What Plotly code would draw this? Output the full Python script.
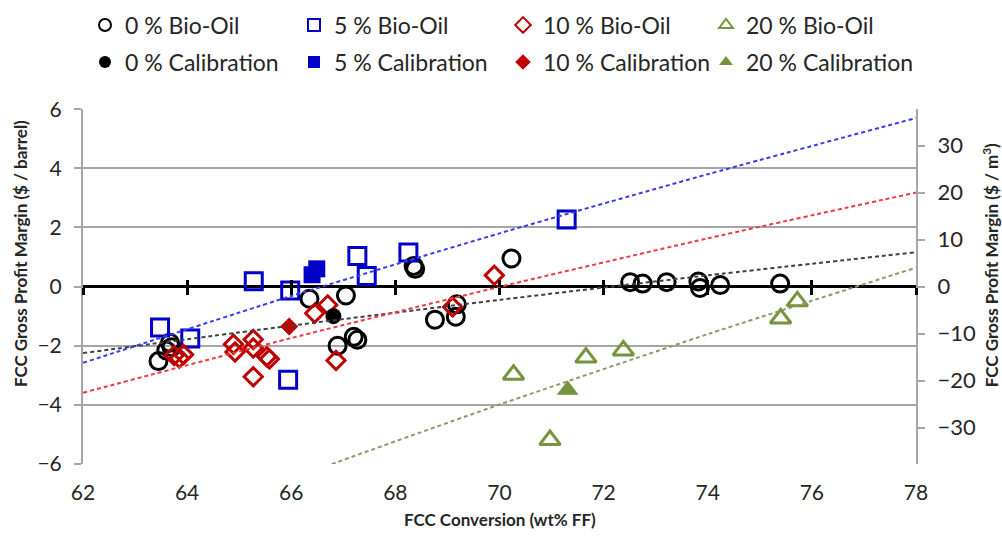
import plotly.graph_objects as go

# ---- data: FCC conversion (wt% FF) vs gross profit margin ($/barrel) ----
bio0_x = [63.45, 63.60, 63.67, 63.70, 66.35, 67.05, 66.89, 67.20, 67.27, 68.35, 68.38,
          68.76, 69.18, 69.16, 70.23, 72.51, 72.75, 73.21, 73.82, 73.85, 74.24, 75.39]
bio0_y = [-2.52, -2.16, -1.90, -2.05, -0.41, -0.30, -2.00, -1.70, -1.80, 0.70, 0.60,
          -1.12, -0.60, -1.02, 0.95, 0.15, 0.10, 0.15, 0.17, -0.05, 0.05, 0.10]
cal0_x = [66.81]
cal0_y = [-1.00]

bio5_x = [63.48, 64.06, 65.28, 65.98, 65.94, 67.27, 67.45, 68.25, 71.29]
bio5_y = [-1.38, -1.76, 0.18, -0.13, -3.15, 1.03, 0.36, 1.15, 2.27]
cal5_x = [66.49, 66.40]
cal5_y = [0.60, 0.40]

bio10_x = [63.75, 63.93, 63.85, 64.89, 64.92, 65.27, 65.27, 65.53, 65.58, 65.27,
           66.45, 66.70, 66.86, 69.10, 69.90]
bio10_y = [-2.33, -2.30, -2.42, -1.95, -2.21, -1.79, -2.08, -2.37, -2.45, -3.05,
           -0.90, -0.62, -2.50, -0.69, 0.38]
cal10_x = [65.96]
cal10_y = [-1.35]

bio20_x = [70.27, 70.97, 71.66, 72.38, 75.40, 75.72]
bio20_y = [-2.98, -5.19, -2.40, -2.16, -1.08, -0.50]
cal20_x = [71.31]
cal20_y = [-3.50]

# trend lines (read at these conversions)
trend_x = [62, 66, 70, 74, 78]
trend0 = [-2.25, -1.32, -0.45, 0.38, 1.16]
trend5 = [-2.58, -0.32, 1.80, 3.80, 5.70]
trend10 = [-3.59, -1.74, -0.01, 1.63, 3.18]
trend20 = [-9.18, -6.50, -3.99, -1.61, 0.64]

labels_bio = ["0 % Bio-Oil", "5 % Bio-Oil", "10 % Bio-Oil", "20 % Bio-Oil"]
labels_cal = ["0 % Calibration", "5 % Calibration", "10 % Calibration", "20 % Calibration"]

x_ticks = [62, 64, 66, 68, 70, 72, 74, 76, 78]
y_ticks = [-6, -4, -2, 0, 2, 4, 6]
y2_ticks = [-30, -20, -10, 0, 10, 20, 30]

BBL_PER_M3 = 1 / 0.158987  # 1 m3 = 6.29 barrels

BLACK = "#000000"
BLUE = "#0000C8"
RED = "#C00000"
GREEN = "#77933C"
FONT = "Lato, 'Open Sans', sans-serif"
TEXT = "#262626"

# page / plot-area geometry in pixels
W, H = 1002, 541
ML, MR, MT, MB = 83, 86, 82, 77
PW, PH = W - ML - MR, H - MT - MB

# legend grid: symbol centres of the four columns and the two rows
LEG_COL_X = [103, 312, 521, 724]
LEG_ROW_Y = [25, 62]


def px_x(px):
    return (px - ML) / PW


def px_y(py):
    return (H - MB - py) / PH


fig = go.Figure()

series = [
    (bio0_x, bio0_y, cal0_x, cal0_y, BLACK, "circle", 17, 16),
    (bio5_x, bio5_y, cal5_x, cal5_y, BLUE, "square", 17, 17),
    (bio10_x, bio10_y, cal10_x, cal10_y, RED, "diamond", 14, 14),
    (bio20_x, bio20_y, cal20_x, cal20_y, GREEN, "triangle-up", 18, 19),
]

legend_layout = {}


def legend_box(col, row):
    return dict(
        orientation="h", xref="container", yref="container",
        xanchor="left", yanchor="middle",
        x=(LEG_COL_X[col] - 18) / W, y=1 - LEG_ROW_Y[row] / H,
        font=dict(family=FONT, size=23, color=TEXT),
        bgcolor="rgba(0,0,0,0)", itemsizing="constant", itemwidth=30,
    )


for i, (bx, by, cx, cy, col, sym, s_open, s_fill) in enumerate(series):
    name = "legend" if i == 0 else f"legend{i + 1}"
    legend_layout[name] = legend_box(i, 0)
    fig.add_trace(go.Scatter(
        x=bx, y=by, mode="markers", name=labels_bio[i], legend=name,
        marker=dict(symbol=sym + "-open", size=s_open, color=col,
                    line=dict(width=3, color=col)),
        hoverinfo="x+y",
    ))
for i, (bx, by, cx, cy, col, sym, s_open, s_fill) in enumerate(series):
    name = f"legend{i + 5}"
    legend_layout[name] = legend_box(i, 1)
    fig.add_trace(go.Scatter(
        x=cx, y=cy, mode="markers", name=labels_cal[i], legend=name,
        marker=dict(symbol=sym, size=s_fill, color=col, line=dict(width=0)),
        hoverinfo="x+y",
    ))

trend_cols = ["#404040", "#3A3AF0", "#F03A3A", "#8C9A66"]
for ty, tc in zip([trend0, trend5, trend10, trend20], trend_cols):
    fig.add_trace(go.Scatter(
        x=trend_x, y=ty, mode="lines", showlegend=False, hoverinfo="skip",
        line=dict(color=tc, width=2, dash="4px,3px", shape="spline", smoothing=0.6),
    ))

# helper traces so the secondary axes get drawn
fig.add_trace(go.Scatter(x=[], y=[], xaxis="x2", yaxis="y", showlegend=False))
fig.add_trace(go.Scatter(x=[], y=[], xaxis="x3", yaxis="y", showlegend=False))
fig.add_trace(go.Scatter(x=[], y=[], xaxis="x", yaxis="y2", showlegend=False))

fig.update_layout(
    width=W, height=H,
    margin=dict(l=ML, r=MR, t=MT, b=MB),
    paper_bgcolor="white", plot_bgcolor="white",
    font=dict(family=FONT, size=21, color=TEXT),
    showlegend=True,
    xaxis=dict(
        range=[62, 78], tickvals=x_ticks, showgrid=False, zeroline=False,
        showline=False, ticks="", ticklabelstandoff=14,
        tickfont=dict(family=FONT, size=21, color=TEXT),
    ),
    # cross-shaped tick marks along the zero line
    xaxis2=dict(
        range=[62, 78], tickvals=x_ticks, overlaying="x", anchor="free", position=0.5,
        showgrid=False, zeroline=False, showline=False, showticklabels=False,
        ticks="outside", ticklen=7, tickwidth=3, tickcolor=BLACK,
    ),
    xaxis3=dict(
        range=[62, 78], tickvals=x_ticks, overlaying="x", anchor="free", position=0.5,
        showgrid=False, zeroline=False, showline=False, showticklabels=False,
        ticks="inside", ticklen=7, tickwidth=3, tickcolor=BLACK,
    ),
    yaxis=dict(
        range=[-6, 6], tickvals=y_ticks, showgrid=True, gridcolor="#A6A6A6", gridwidth=2,
        zeroline=True, zerolinecolor=BLACK, zerolinewidth=3,
        showline=True, linecolor="#A6A6A6", linewidth=2,
        ticks="outside", ticklen=7, tickwidth=2, tickcolor="#A6A6A6",
        ticklabelstandoff=8,
        tickfont=dict(family=FONT, size=21, color=TEXT),
    ),
    yaxis2=dict(
        range=[-6 * BBL_PER_M3, 6 * BBL_PER_M3], tickvals=y2_ticks,
        overlaying="y", side="right", anchor="x", showgrid=False, zeroline=False,
        showline=True, linecolor="#A6A6A6", linewidth=2,
        ticks="outside", ticklen=7, tickwidth=2, tickcolor="#A6A6A6",
        ticklabelstandoff=8,
        tickfont=dict(family=FONT, size=22, color=TEXT),
    ),
    **legend_layout,
)

# axis titles
fig.add_annotation(
    text="<b>FCC Conversion (wt% FF)</b>", xref="paper", yref="paper",
    x=0.5, y=px_y(524), showarrow=False, xanchor="center", yanchor="middle",
    font=dict(family=FONT, size=17, color=TEXT),
)
fig.add_annotation(
    text="<b>FCC Gross Profit Margin ($ / barrel)</b>", xref="paper", yref="paper",
    x=px_x(20), y=px_y(238), showarrow=False, textangle=-90,
    xanchor="center", yanchor="middle",
    font=dict(family=FONT, size=17, color=TEXT),
)
fig.add_annotation(
    text="<b>FCC Gross Profit Margin ($ / m<sup>3</sup>)</b>", xref="paper", yref="paper",
    x=px_x(990), y=px_y(250), showarrow=False, textangle=-90,
    xanchor="center", yanchor="middle",
    font=dict(family=FONT, size=17, color=TEXT),
)

fig.write_html("out.html")
